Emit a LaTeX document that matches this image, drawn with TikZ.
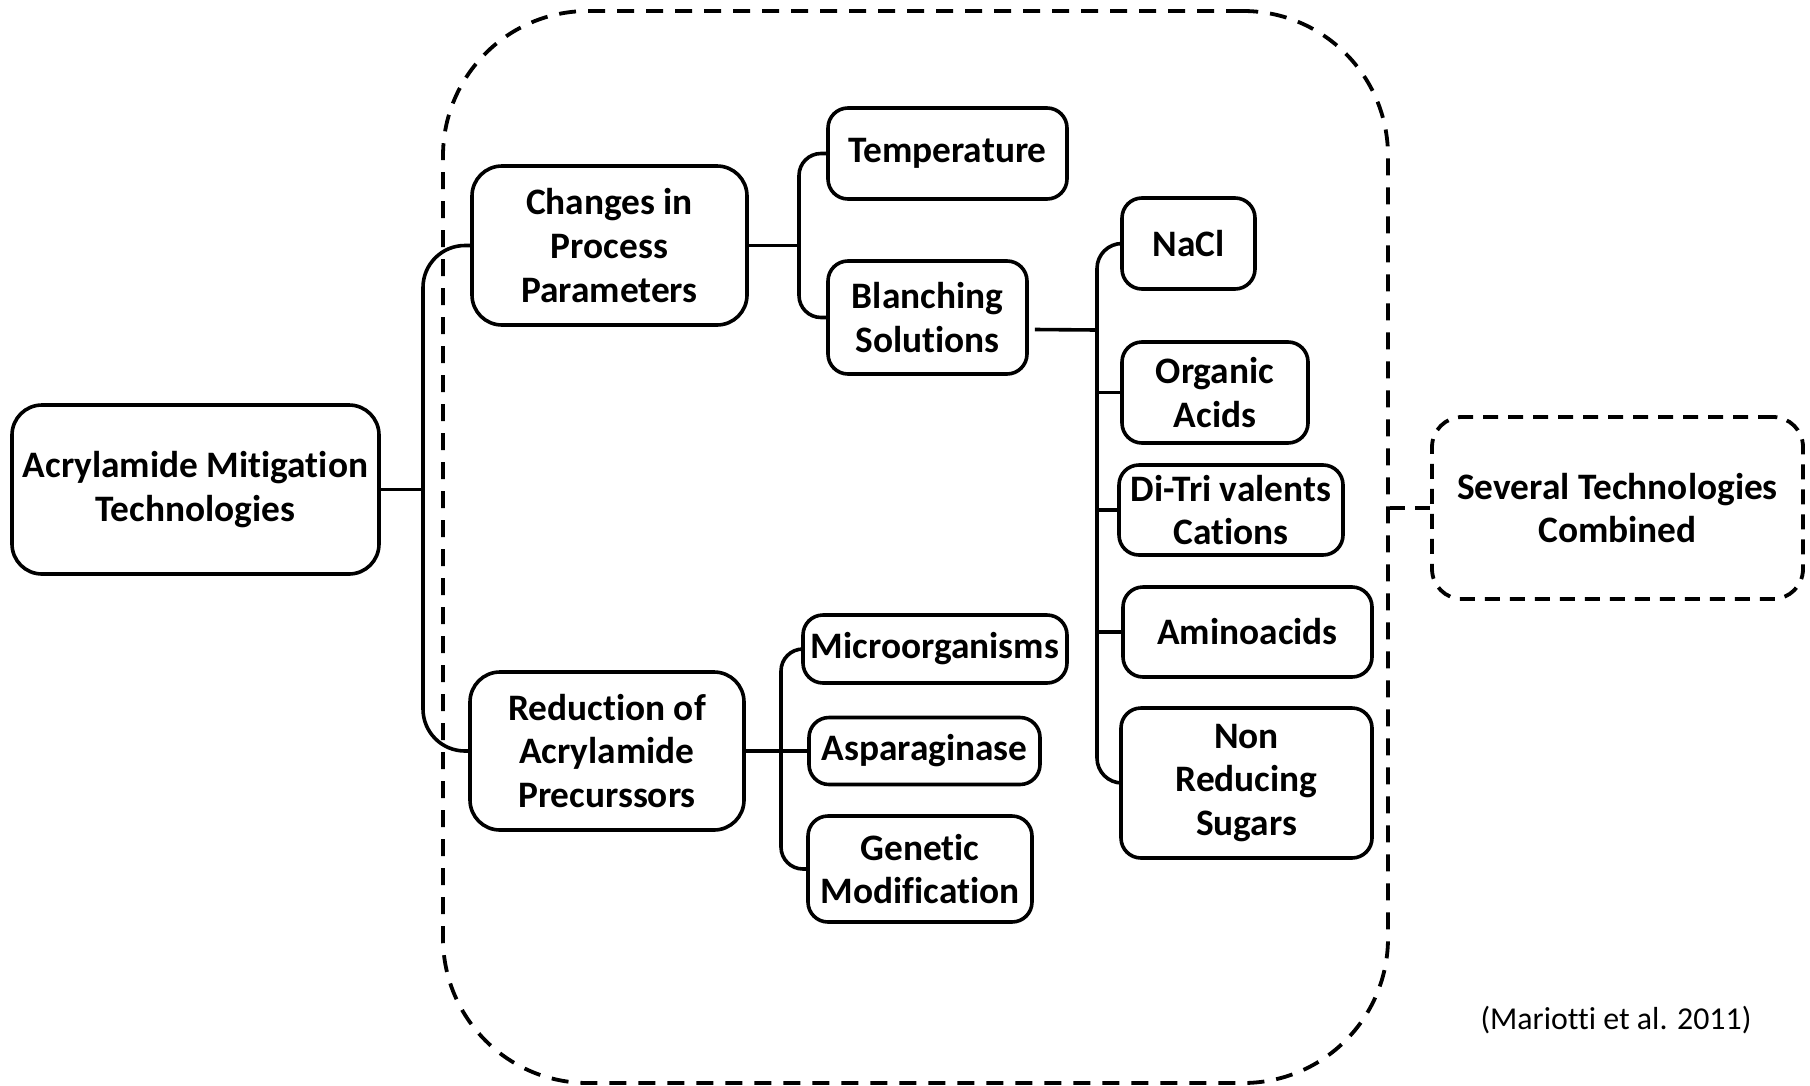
\documentclass[tikz,border=0pt]{standalone}
\usepackage{fontspec}
\setmainfont{Carlito}[Ligatures={NoCommon,NoContextual}]
\begin{document}
\begin{tikzpicture}[x=1bp,y=-1bp,
    box/.style={draw,line width=3.6bp,rounded corners=20bp,align=center,inner sep=0pt,
        font=\bfseries\fontsize{37.5}{44}\selectfont},
    wh/.style 2 args={minimum width=#1bp,minimum height=#2bp},
    link/.style={line width=3.6bp},
    dashlink/.style={line width=3.8bp,dash pattern=on 15bp off 10bp}]
    \useasboundingbox (0,0) rectangle (1810,1085);
    % cadre en pointilles
    \node[draw,line width=3.8bp,dash pattern=on 17bp off 12bp,rounded corners=145bp,wh={945}{1072}] (group) at (915.5,547) {};
    \node[box,rounded corners=30bp,wh={367}{169}] (root) at (195.5,489.5) {Acrylamide Mitigation\\Technologies};
    \node[box,rounded corners=30bp,wh={275}{159}] (changes) at (609.5,245.5) {Changes in\\Process\\Parameters};
    \node[box,rounded corners=30bp,wh={274}{158}] (reduction) at (607,751) {Reduction of\\Acrylamide\\Precurssors};
    \node[box,wh={239}{91}] (temp) at (947.5,153.5) {Temperature};
    \node[box,wh={199}{113}] (blanch) at (927.5,317.5) {Blanching\\Solutions};
    \node[box,wh={264}{68}] (micro) at (935,649) {Microorganisms};
    \node[box,wh={231}{67}] (aspar) at (924.5,751) {Asparaginase};
    \node[box,wh={224}{106}] (genetic) at (920,869) {Genetic\\Modification};
    \node[box,wh={133}{91}] (nacl) at (1188.5,243.5) {NaCl};
    \node[box,wh={186}{101}] (organic) at (1215,392.5) {Organic\\Acids};
    \node[box,wh={224}{90}] (ditri) at (1231,510) {Di-Tri valents\\Cations};
    \node[box,wh={249}{90}] (amino) at (1247.5,632) {Aminoacids};
    \node[box,wh={251}{150}] (nonred) at (1246.5,783) {Non\\Reducing\\Sugars};
    \node[box,line width=3.8bp,dash pattern=on 15bp off 10bp,rounded corners=30bp,wh={371}{182}] (several) at (1617.5,508) {Several Technologies\\Combined};
    \node[font=\fontsize{32}{38}\selectfont] (ref) at (1616,1020) {(Mariotti et al. 2011)};
    % accolades
    \coordinate (j1) at (423,493);
    \coordinate (j2) at (799,241);
    \coordinate (j3) at (781,751);
    \coordinate (j4) at (1097,330);
    \draw[link] (root.east) -- (root.east -| j1);
    \draw[link,rounded corners=42bp] (changes.west) -| (j1) |- (reduction.west);
    \draw[link] (changes.east) -- (changes.east -| j2);
    \draw[link,rounded corners=22bp] (temp.west) -| (j2) |- (blanch.west);
    \draw[link] (reduction.east) -- (aspar.west);
    \draw[link,rounded corners=22bp] (micro.west) -| (j3) |- (genetic.west);
    \draw[link] ([xshift=6bp,yshift=-12bp]blanch.east) -- (j4);
    \draw[link,rounded corners=25bp] (nacl.west) -| (j4) |- (nonred.west);
    \foreach \n in {organic,ditri,amino}
        \draw[link] (\n.west) -- (\n.west -| j4);
    \draw[dashlink] (several.west -| group.east) -- (several.west);
\end{tikzpicture}
\end{document}
